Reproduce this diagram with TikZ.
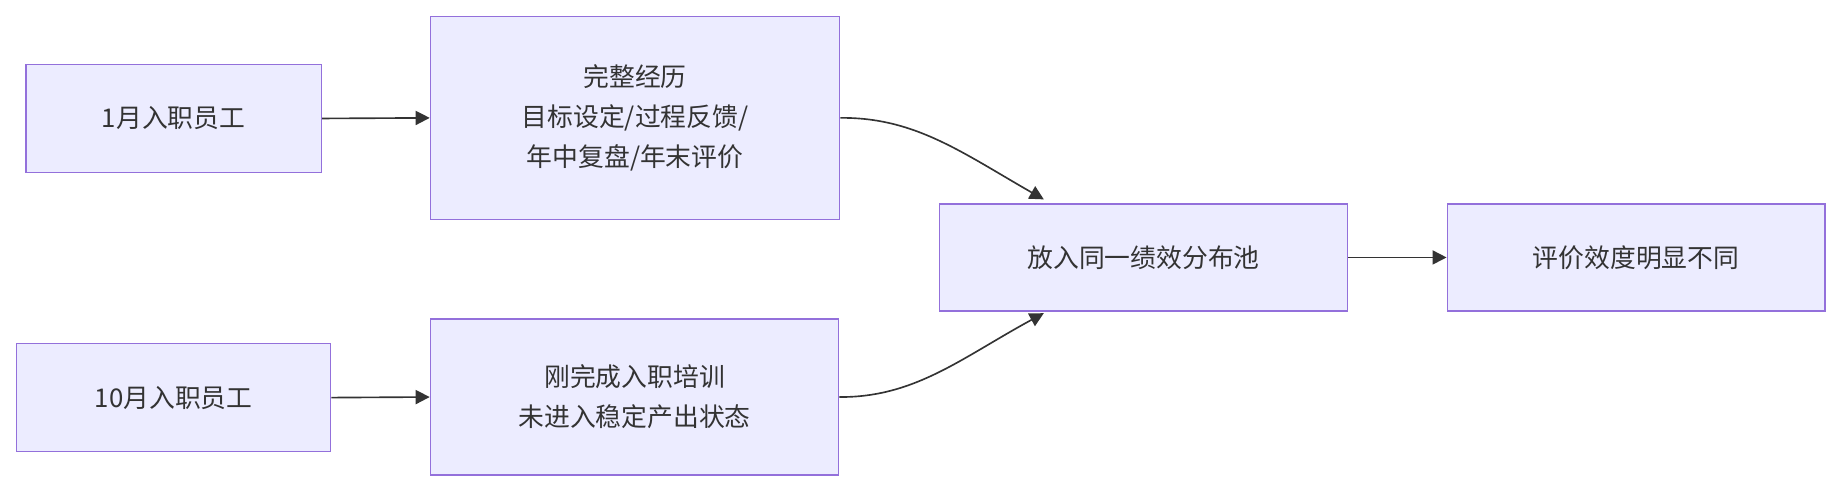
\documentclass[tikz,border=0pt]{standalone}
\usepackage{fontspec}
\setmainfont{Noto Sans CJK SC}
\usetikzlibrary{arrows.meta}
\definecolor{nfill}{HTML}{ECECFF}
\definecolor{nbord}{HTML}{9370DB}
\definecolor{ln}{HTML}{333333}
\begin{document}
\begin{tikzpicture}[x=0.5pt,y=-0.5pt,
  box/.style={draw=nbord,fill=nfill,line width=0.6pt,inner sep=0pt,align=center,font=\fontsize{11}{17}\selectfont,text=ln},
  arr/.style={draw=ln,line width=0.7pt,-{Triangle[length=6pt,width=6pt]}}]
\useasboundingbox (0,0) rectangle (1568,420);
\node[box,minimum width=252\pgflinewidth*0+126pt,minimum height=46pt] (a) at (148,101) {1月入职员工};
\node[box,minimum width=174.5pt,minimum height=86.5pt] (b) at (541.5,100.5) {完整经历\\目标设定/过程反馈/\\年中复盘/年末评价};
\node[box,minimum width=134pt,minimum height=46pt] (c) at (148,339) {10月入职员工};
\node[box,minimum width=174pt,minimum height=66.5pt] (d) at (541,338.5) {刚完成入职培训\\未进入稳定产出状态};
\node[box,minimum width=174pt,minimum height=45.5pt] (e) at (975,219.5) {放入同一绩效分布池};
\node[box,minimum width=161pt,minimum height=45.5pt] (f) at (1395,219.5) {评价效度明显不同};
\coordinate (et) at (890,170);
\coordinate (eb) at (890,267);
\draw[arr] (a.east) -- (b.west);
\draw[arr] (c.east) -- (d.west);
\draw[arr] (e.east) -- (f.west);
\draw[arr] (b.east) .. controls (780,100) and (820,130) .. (et);
\draw[arr] (d.east) .. controls (780,339) and (820,305) .. (eb);
\end{tikzpicture}
\end{document}
